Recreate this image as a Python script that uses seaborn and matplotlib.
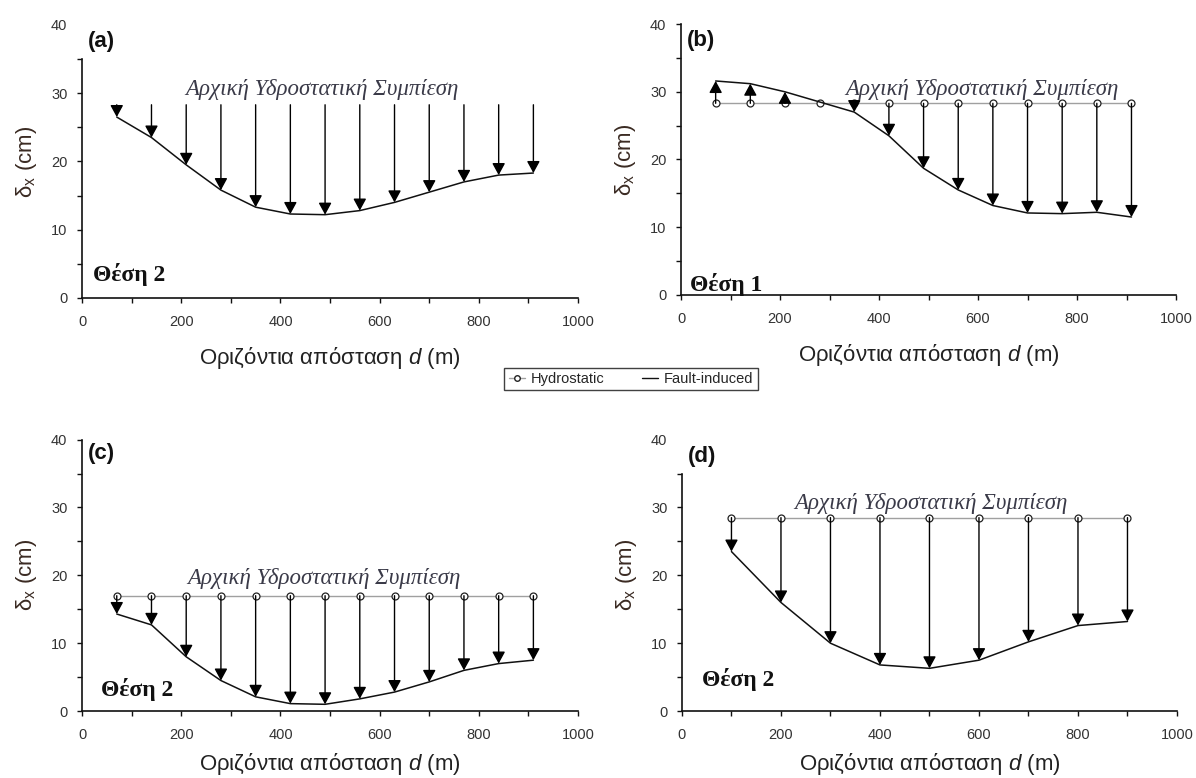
import matplotlib
matplotlib.use("Agg")
import matplotlib.pyplot as plt
from matplotlib.ticker import MultipleLocator
from matplotlib.lines import Line2D
import seaborn as sns
import pandas as pd

# ---------------- data ----------------
x_13 = [70, 140, 210, 280, 350, 420, 490, 560, 630, 700, 770, 840, 910]
x_9 = [100, 200, 300, 400, 500, 600, 700, 800, 900]

a_fault = [26.5, 23.5, 19.5, 15.8, 13.3, 12.3, 12.2, 12.8, 14.0, 15.5, 17.0, 18.0, 18.3]
a_hydro = [28.3] * 13
b_fault = [31.6, 31.2, 30.0, 28.5, 27.0, 23.5, 18.7, 15.5, 13.2, 12.1, 12.0, 12.2, 11.5]
b_hydro = [28.3] * 13
c_fault = [14.3, 12.7, 8.0, 4.5, 2.1, 1.1, 1.0, 1.8, 2.8, 4.3, 6.0, 7.0, 7.5]
c_hydro = [17.0] * 13
d_fault = [23.5, 16.0, 10.0, 6.8, 6.3, 7.5, 10.2, 12.6, 13.2]
d_hydro = [28.5] * 9

panel_labels = ["(a)", "(b)", "(c)", "(d)"]
site_labels = ["Θέση 2", "Θέση 1", "Θέση 2", "Θέση 2"]
hydro_text = "Αρχική Υδροστατική Συμπίεση"
xlabel = "Οριζόντια απόσταση $\\it{d}$ (m)"
ylabel = "δ$_{\\mathrm{x}}$ (cm)"
legend_labels = ["Hydrostatic", "Fault-induced"]

# ---------------- style ----------------
sns.set_theme(style="ticks")
plt.rcParams["font.family"] = ["Liberation Sans", "DejaVu Sans"]
plt.rcParams["mathtext.fontset"] = "custom"
plt.rcParams["mathtext.rm"] = "Liberation Sans"
plt.rcParams["mathtext.it"] = "Liberation Sans:italic"

fig = plt.figure(figsize=(11.96, 7.78), dpi=100)

positions = [
    (0.0686, 0.617, 0.4147, 0.351),
    (0.5694, 0.621, 0.4139, 0.348),
    (0.0686, 0.0860, 0.4147, 0.349),
    (0.5702, 0.0860, 0.4139, 0.349),
]

panels = [
    dict(x=x_13, fault=a_fault, hydro=a_hydro, show_hydro=False, top=35,
         lab_y=37.6, site=(22, 3.4), txt=(484, 30.6), lpad=11),
    dict(x=x_13, fault=b_fault, hydro=b_hydro, show_hydro=True, top=40,
         lab_y=37.6, site=(18, 1.6), txt=(608, 30.4), lpad=11),
    dict(x=x_13, fault=c_fault, hydro=c_hydro, show_hydro=True, top=40,
         lab_y=38.0, site=(38, 3.2), txt=(487, 19.6), lpad=6),
    dict(x=x_9, fault=d_fault, hydro=d_hydro, show_hydro=True, top=35,
         lab_y=37.5, site=(40, 4.7), txt=(502, 30.6), lpad=6),
]

tick_col = "#333333"
serif = ["Liberation Serif", "DejaVu Serif"]

for i, (pos, p) in enumerate(zip(positions, panels)):
    ax = fig.add_axes(pos)
    df = pd.DataFrame({"x": p["x"], "fault": p["fault"], "hydro": p["hydro"]})

    if p["show_hydro"]:
        sns.lineplot(data=df, x="x", y="hydro", ax=ax, color="#a0a0a0", lw=1.0,
                     marker="o", markersize=5, markerfacecolor="white",
                     markeredgecolor="#222222", markeredgewidth=0.9, zorder=2)
    sns.lineplot(data=df, x="x", y="fault", ax=ax, color="#111111", lw=1.1, zorder=3)

    for xv, h, f in zip(p["x"], p["hydro"], p["fault"]):
        if abs(h - f) < 0.6:
            continue
        ax.annotate("", xy=(xv, f), xytext=(xv, h),
                    arrowprops=dict(arrowstyle="-|>,head_length=0.55,head_width=0.3",
                                    mutation_scale=13, color="black", lw=1.0,
                                    shrinkA=0, shrinkB=0), zorder=4)

    ax.set_xlim(0, 1000)
    ax.set_ylim(0, 40)
    ax.xaxis.set_major_locator(MultipleLocator(200))
    ax.xaxis.set_minor_locator(MultipleLocator(100))
    ax.set_yticks([0, 10, 20, 30, 40])
    ax.yaxis.set_minor_locator(MultipleLocator(5))
    sns.despine(ax=ax)
    ax.spines["left"].set_bounds(0, p["top"])
    ax.spines["bottom"].set_bounds(0, 1000)
    for s in ("left", "bottom"):
        ax.spines[s].set_color("#111111")
        ax.spines[s].set_linewidth(1.2)
    ax.tick_params(which="both", direction="out", length=3.5, width=1.0,
                   color="#111111", labelsize=10.5, labelcolor=tick_col, pad=7)
    ax.tick_params(axis="x", which="both", pad=9)
    if p["top"] < 40:
        ax.yaxis.get_major_ticks()[-1].tick1line.set_visible(False)
        ax.set_yticks([5, 15, 25, 35], minor=True)

    ax.set_xlabel(xlabel, fontsize=16, color="#222222", labelpad=p["lpad"])
    ax.set_ylabel(ylabel, fontsize=16, color="#3a2a22", labelpad=9)

    ax.text(12, p["lab_y"], panel_labels[i], fontsize=16, fontweight="bold",
            color="#111111", va="center", ha="left")
    ax.text(p["site"][0], p["site"][1], site_labels[i], fontsize=17,
            fontweight="bold", family=serif, color="#111111",
            va="center", ha="left")
    ax.text(p["txt"][0], p["txt"][1], hydro_text, fontsize=16.5, style="italic",
            family=serif, color="#3a3a48", va="center", ha="center")

handles = [
    Line2D([], [], color="#a0a0a0", lw=1.0, marker="o", markersize=4,
           markerfacecolor="white", markeredgecolor="#222222"),
    Line2D([], [], color="#111111", lw=1.0),
]
leg = fig.legend(handles, legend_labels, loc="center", ncol=2,
                 bbox_to_anchor=(631 / 1196, 1 - 379 / 778), fontsize=10.5,
                 frameon=True, fancybox=False, edgecolor="#111111",
                 handlelength=1.1, handletextpad=0.4, columnspacing=2.6,
                 borderpad=0.3)
leg.get_frame().set_linewidth(1.0)

fig.savefig("out.png", dpi=100)
